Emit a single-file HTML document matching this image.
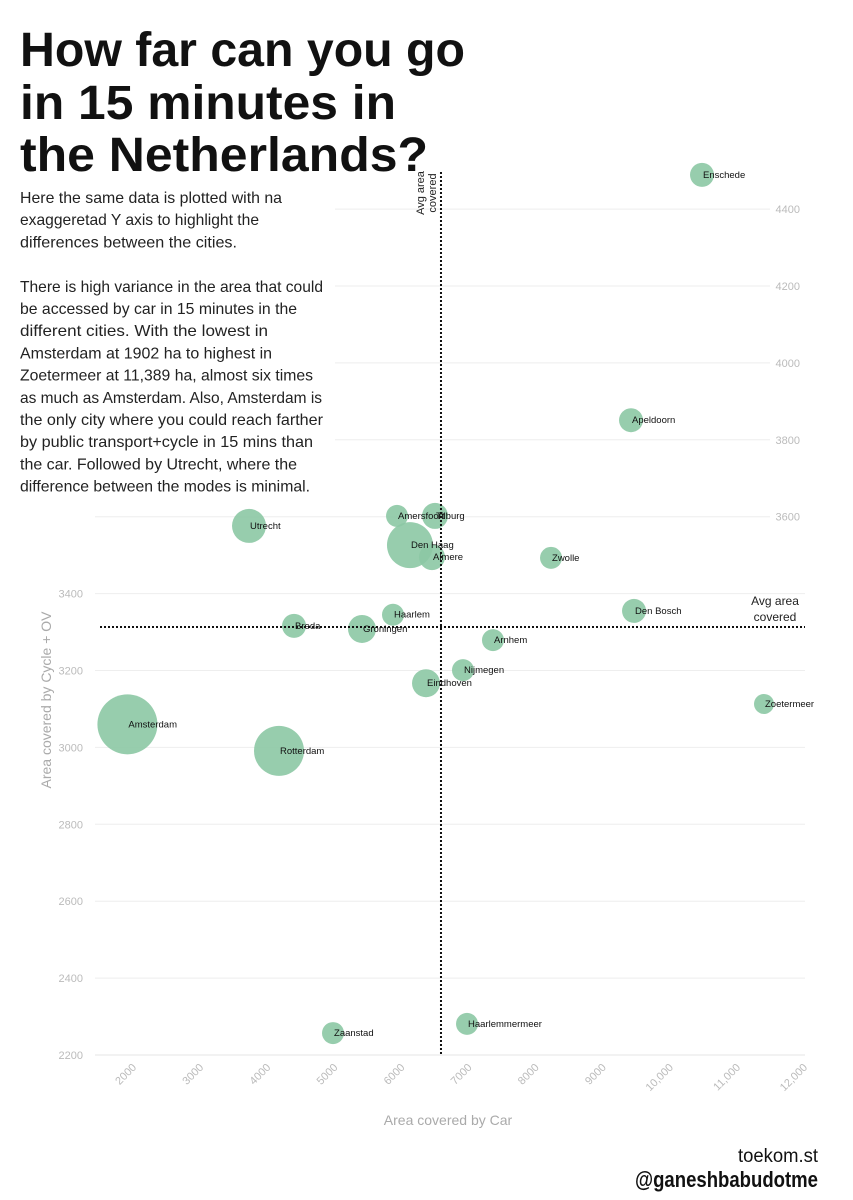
<!DOCTYPE html>
<html><head><meta charset="utf-8"><style>
html,body{margin:0;padding:0;background:#fff}
svg{display:block}
text{font-family:"Liberation Sans",sans-serif}
</style></head><body>
<svg id="chart" width="853" height="1200" viewBox="0 0 853 1200" xmlns="http://www.w3.org/2000/svg">
<g id="plot"></g>
<rect x="0" y="180" width="335" height="316" fill="#fff"/>
<g font-weight="bold" font-size="48" fill="#111">
<text x="20" y="66" textLength="445" lengthAdjust="spacingAndGlyphs">How far can you go</text>
<text x="20" y="119" textLength="376" lengthAdjust="spacingAndGlyphs">in 15 minutes in</text>
<text x="20" y="171" textLength="408" lengthAdjust="spacingAndGlyphs">the Netherlands?</text>
</g>
<g font-size="16" fill="#222" id="desc"></g>
<g id="over"></g>
<g text-anchor="end" fill="#111">
<text x="818" y="1162" font-size="19" textLength="80" lengthAdjust="spacingAndGlyphs">toekom.st</text>
<text x="818" y="1187" font-size="22" font-weight="bold" textLength="183" lengthAdjust="spacingAndGlyphs">@ganeshbabudotme</text>
</g>
</svg>
<script>
const cities=["Enschede","Apeldoorn","Tilburg","Amersfoort","Utrecht","Den Haag","Almere","Zwolle","Den Bosch","Haarlem","Breda","Groningen","Arnhem","Nijmegen","Eindhoven","Zoetermeer","Amsterdam","Rotterdam","Zaanstad","Haarlemmermeer"];
const carArea=[10465,9407,6486,5920,3714,6113,6441,8215,9452,5860,4385,5398,7350,6903,6352,11389,1902,4161,4966,6963];
const cycleArea=[4489,3851,3602,3602,3576,3526,3495,3493,3355,3345,3316,3308,3279,3201,3167,3113,3060,2991,2257,2281];
const bubbleSize=[12,12,13,11,17,23,13,11,12,11,12,14,11,11,14,10,30,25,11,11];
const labelText=["Enschede","Apeldoorn","Tilburg","Amersfoort","Utrecht","Den Haag","Almere","Zwolle","Den Bosch","Haarlem","Breda","Groningen","Arnhem","Nijmegen","Eindhoven","Zoetermeer","Amsterdam","Rotterdam","Zaanstad","Haarlemmermeer"];
const xTicks=[2000,3000,4000,5000,6000,7000,8000,9000,10000,11000,12000];
const xTickLabels=["2000","3000","4000","5000","6000","7000","8000","9000","10,000","11,000","12,000"];
const yTicks=[2200,2400,2600,2800,3000,3200,3400,3600,3800,4000,4200,4400];
const avgCar=6575, avgCycle=3313;
const descLines=["Here the same data is plotted with na","exaggeretad Y axis to highlight the","differences between the cities.","","There is high variance in the area that could","be accessed by car in 15 minutes in the","different cities. With the lowest in","Amsterdam at 1902 ha to highest in","Zoetermeer at 11,389 ha, almost six times","as much as Amsterdam. Also, Amsterdam is","the only city where you could reach farther","by public transport+cycle in 15 mins than","the car.  Followed by Utrecht, where the","difference between the modes is minimal."];
const descW=[262,239,217,0,303,277,248,252,293,302,303,293,277,290];

const NS="http://www.w3.org/2000/svg";
const X=v=>134+(v-2000)*0.0671;
const Y=v=>1055-(v-2200)*0.3845;
function el(tag,attrs,parent,txt){const e=document.createElementNS(NS,tag);for(const k in attrs)e.setAttribute(k,attrs[k]);if(txt!==undefined)e.textContent=txt;parent.appendChild(e);return e;}
const plot=document.getElementById('plot');
const over=document.getElementById('over');
const desc=document.getElementById('desc');
descLines.forEach((l,i)=>{ if(l){const t=el('text',{x:20,y:203+i*22.2,textLength:descW[i],lengthAdjust:'spacingAndGlyphs'},desc,l);

}});

yTicks.forEach(v=>{
  const right=v>=3600;
  const g=el('line',{x1:95,x2:right?770:805,y1:Y(v),y2:Y(v),stroke:'#eeeeee','stroke-width':1},plot);
  
  
  const t=el('text',{x:right?800:83,y:Y(v)+4,'text-anchor':'end','font-size':11,fill:'#bbb'},plot,String(v));
  
  
});
const ax=el('line',{x1:95,x2:805,y1:1055,y2:1055,stroke:'#e6e6e6'},plot);


xTicks.forEach((v,i)=>{
  const x=X(v);
  const t=el('text',{x:x+3,y:1068,'text-anchor':'end','font-size':11,fill:'#bbb',transform:`rotate(-45 ${x+3} 1068)`},plot,xTickLabels[i]);
  
  
});
let t=el('text',{x:448,y:1125,'text-anchor':'middle','font-size':14,fill:'#aaa'},plot,'Area covered by Car');


t=el('text',{x:51,y:700,'text-anchor':'middle','font-size':14,fill:'#aaa',transform:'rotate(-90 51 700)'},plot,'Area covered by Cycle + OV');



cities.forEach((c,i)=>{
  const cx=X(carArea[i]), cy=Y(cycleArea[i]);
  const b=el('circle',{cx:cx,cy:cy,r:bubbleSize[i],fill:'#8cc8a4','fill-opacity':0.9},over);
  
  
});
const vx=X(avgCar), hy=Y(avgCycle);
let l=el('line',{x1:vx,x2:vx,y1:172,y2:1055,stroke:'#111','stroke-width':2,'stroke-dasharray':'2,2'},over);


l=el('line',{x1:100,x2:805,y1:hy,y2:hy,stroke:'#111','stroke-width':2,'stroke-dasharray':'2,2'},over);


const lab=el('g',{'font-size':11,fill:'#222'},over);


el('text',{x:424,y:193,'text-anchor':'middle',transform:'rotate(-90 424 193)'},lab,'Avg area');
el('text',{x:436,y:193,'text-anchor':'middle',transform:'rotate(-90 436 193)'},lab,'covered');
const lab2=el('g',{'font-size':12,fill:'#222','text-anchor':'middle'},over);


el('text',{x:775,y:605},lab2,'Avg area');
el('text',{x:775,y:621},lab2,'covered');
cities.forEach((c,i)=>{
  const cx=X(carArea[i]), cy=Y(cycleArea[i]);
  const tt=el('text',{x:cx+1,y:cy+3,'font-size':9.5,fill:'#111'},over,labelText[i]);
  
  
});
</script>
</body></html>
